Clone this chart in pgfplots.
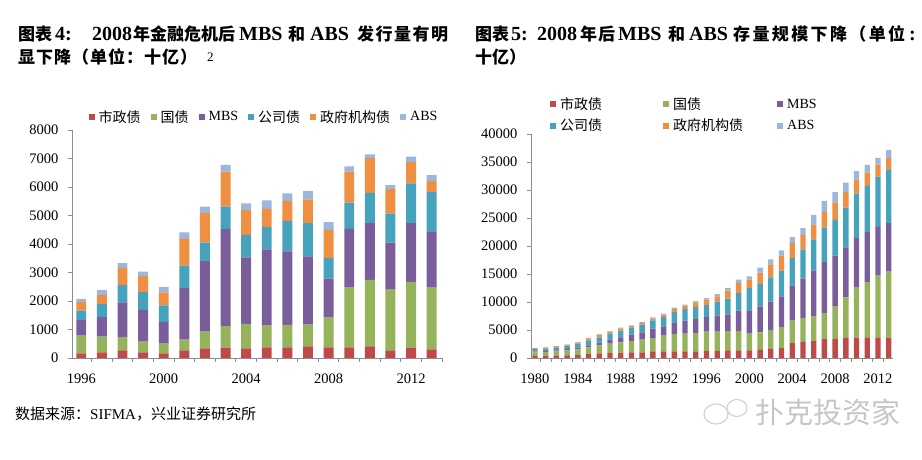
\documentclass[border=0pt]{standalone}
\usepackage{pgfplots}
\usepackage{pgfplotstable}
\pgfplotsset{compat=1.18}
\usepackage{fontspec}
\setmainfont{Liberation Serif}
\newfontfamily\cjk{Noto Sans CJK SC}
\definecolor{cRed}{HTML}{BE4B48}
\definecolor{cGreen}{HTML}{94B35A}
\definecolor{cPurple}{HTML}{7A5E9C}
\definecolor{cTeal}{HTML}{47A2BE}
\definecolor{cOrange}{HTML}{EE8F42}
\definecolor{cAbs}{HTML}{9DB6DC}
\definecolor{axgray}{HTML}{8C8C8C}

\pgfplotstableread{
year muni treas mbs corp agency abs
1996 165 620 540 340 305 105
1997 200 550 680 470 315 165
1998 270 445 1240 600 605 165
1999 200 375 1110 630 555 165
2000 165 340 760 585 455 190
2001 270 375 1815 785 935 225
2002 340 585 2470 655 1030 230
2003 365 750 3410 785 1230 235
2004 340 855 2340 785 870 235
2005 375 760 2680 775 645 295
2006 375 785 2585 1065 700 270
2007 410 760 2400 1160 840 295
2008 375 1040 1370 715 995 270
2009 375 2095 2060 920 1090 180
2010 410 2330 1990 1065 1230 120
2011 270 2130 1650 1020 855 140
2012 365 2305 2060 1395 745 200
2013 305 2165 1955 1400 390 200
}\issuance

\pgfplotstableread{
year muni treas mbs corp agency abs
1980 400 620 110 460 160 0
1981 410 680 130 470 190 0
1982 430 760 180 530 210 10
1983 470 900 240 580 210 10
1984 560 1000 270 740 240 20
1985 710 1190 360 900 360 60
1986 830 1430 480 950 480 110
1987 890 1670 710 1130 300 120
1988 950 1850 890 1190 420 110
1989 1010 2020 1140 1240 300 120
1990 1010 2260 1310 1370 300 180
1991 1190 2380 1670 1480 300 240
1992 1190 2800 1660 1670 420 170
1993 1190 3090 2090 1840 540 230
1994 1190 3150 2320 2090 590 180
1995 1190 3270 2500 2140 840 230
1996 1250 3450 2620 2140 950 300
1997 1250 3450 2860 2500 950 410
1998 1370 3330 3100 2790 1430 480
1999 1370 3450 3630 3150 1790 590
2000 1370 2970 4170 3990 1480 600
2001 1550 3030 4640 3990 2020 890
2002 1630 3270 5170 4330 2320 890
2003 1750 3690 5580 4570 2670 950
2004 2640 4040 6300 4860 2680 1070
2005 2880 4280 7010 5170 2660 1190
2006 3120 4280 8250 5530 2660 1730
2007 3360 4570 9210 6120 2840 1970
2008 3360 5820 9090 6410 3090 1840
2009 3530 7310 8910 7120 2740 1720
2010 3650 8910 8910 7900 2500 1480
2011 3590 9980 8970 8200 2380 1360
2012 3590 11110 8730 8970 2140 1190
2013 3530 11880 8670 9620 2020 1430
}\outstanding

\pgfplotsset{
  sq/.style={fill=#1, draw=none,
    legend image code/.code={\fill[#1] (0pt,-3pt) rectangle (6pt,3pt); \path (0pt,0pt) -- (8pt,0pt);}},
  base/.style={
    scale only axis,
    ybar stacked,
    axis lines*=left,
    axis line style={draw=axgray, line width=0.8pt},
    ymin=0,
    tick align=outside,
    major tick length=4pt,
    tick style={draw=axgray, line width=0.8pt},
    ticklabel style={font=\fontsize{14.5}{16}\selectfont},
    xticklabel style={yshift=-12pt},
    yticklabel style={xshift=-6pt},
    /pgf/number format/assume math mode=true,
    /pgf/number format/1000 sep={},
    scaled y ticks=false,
    xticklabel=\empty,
    extra x tick style={major tick length=0pt},
    clip=false,
  },
}

\newcommand\tc[1]{{\cjk\bfseries\fontsize{17}{20}\selectfont #1}}
\newcommand\ts[2]{{\cjk\bfseries\fontsize{17}{20}\selectfont\makebox[#1][s]{#2}}}
\newcommand\tl[1]{{\bfseries\fontsize{20}{22}\selectfont #1}}

\begin{document}
\begin{tikzpicture}
\useasboundingbox (0pt,0pt) rectangle (922pt,460pt);

% titles
\node[anchor=base west, inner sep=0pt] at (18pt,419pt) {\ts{34pt}{图\hfill 表}};
\node[anchor=base west, inner sep=0pt] at (55pt,419pt) {\tl{4:}};
\node[anchor=base west, inner sep=0pt] at (92pt,419pt) {\tl{2008}};
\node[anchor=base west, inner sep=0pt] at (133pt,419pt) {\ts{102pt}{年\hfill 金\hfill 融\hfill 危\hfill 机\hfill 后}};
\node[anchor=base west, inner sep=0pt] at (239pt,419pt) {\tl{MBS}};
\node[anchor=base west, inner sep=0pt] at (288pt,419pt) {\tc{和}};
\node[anchor=base west, inner sep=0pt] at (310pt,419pt) {\tl{ABS}};
\node[anchor=base west, inner sep=0pt] at (357pt,419pt) {\ts{91pt}{发\hfill 行\hfill 量\hfill 有\hfill 明}};
\node[anchor=base west, inner sep=0pt] at (18pt,396pt) {\ts{179pt}{显\hfill 下\hfill 降\hfill （\hfill 单\hfill 位\hfill ：\hfill 十\hfill 亿\hfill ）}};
\node[anchor=base west, inner sep=0pt] at (207pt,398pt) {\fontsize{13}{14}\selectfont 2};

\node[anchor=base west, inner sep=0pt] at (475pt,419pt) {\ts{34pt}{图\hfill 表}};
\node[anchor=base west, inner sep=0pt] at (511pt,419pt) {\tl{5:}};
\node[anchor=base west, inner sep=0pt] at (537pt,419pt) {\tl{2008}};
\node[anchor=base west, inner sep=0pt] at (580pt,419pt) {\ts{35pt}{年\hfill 后}};
\node[anchor=base west, inner sep=0pt] at (618pt,419pt) {\tl{MBS}};
\node[anchor=base west, inner sep=0pt] at (668pt,419pt) {\tc{和}};
\node[anchor=base west, inner sep=0pt] at (689pt,419pt) {\tl{ABS}};
\node[anchor=base west, inner sep=0pt] at (733pt,419pt) {\ts{172pt}{存\hfill 量\hfill 规\hfill 模\hfill 下\hfill 降\hfill （\hfill 单\hfill 位}};
\node[anchor=base west, inner sep=0pt] at (909pt,419pt) {\tl{:}};
\node[anchor=base west, inner sep=0pt] at (475pt,396pt) {\tc{十亿）}};

% left chart
\begin{axis}[base,
  at={(72pt,102pt)}, anchor=south west,
  width=371pt, height=228pt,
  xmin=1995.55, xmax=2013.55, ymax=8000,
  ytick={0,1000,...,8000},
  xtick={1995.5,1996.5,...,2013.5},
  extra x ticks={1996,2000,2004,2008,2012},
  extra x tick labels={1996,2000,2004,2008,2012},
  bar width=0.48,
  legend columns=6,
  legend style={draw=none, fill=none, inner sep=0pt,
    at={(0.5175,1.057)}, anchor=center,
    font=\fontsize{14}{16}\selectfont,
    /tikz/every even column/.append style={column sep=8pt}},
]
\addplot[sq=cRed] table[x=year,y=muni]{\issuance};
\addlegendentry{\cjk 市政债}
\addplot[sq=cGreen] table[x=year,y=treas]{\issuance};
\addlegendentry{\cjk 国债}
\addplot[sq=cPurple] table[x=year,y=mbs]{\issuance};
\addlegendentry{MBS}
\addplot[sq=cTeal] table[x=year,y=corp]{\issuance};
\addlegendentry{\cjk 公司债}
\addplot[sq=cOrange] table[x=year,y=agency]{\issuance};
\addlegendentry{\cjk 政府机构债}
\addplot[sq=cAbs] table[x=year,y=abs]{\issuance};
\addlegendentry{ABS}
\end{axis}

% right chart
\begin{axis}[base,
  at={(531pt,102pt)}, anchor=south west,
  width=362pt, height=224pt,
  xmin=1979.63, xmax=2013.4, ymax=40000,
  ytick={0,5000,...,40000},
  xtick={1979.5,1980.5,...,2013.5},
  extra x ticks={1980,1984,1988,1992,1996,2000,2004,2008,2012},
  extra x tick labels={1980,1984,1988,1992,1996,2000,2004,2008,2012},
  bar width=0.5,
  legend columns=3,
  legend style={draw=none, fill=none, inner sep=0pt,
    at={(0.0525,1.085)}, anchor=west,
    font=\fontsize{14}{16}\selectfont,
    cells={anchor=west},
    row sep=4pt},
]
\addplot[sq=cRed] table[x=year,y=muni]{\outstanding};
\addlegendentry{\makebox[101pt][l]{\cjk 市政债}}
\addplot[sq=cGreen] table[x=year,y=treas]{\outstanding};
\addlegendentry{\makebox[102pt][l]{\cjk 国债}}
\addplot[sq=cPurple] table[x=year,y=mbs]{\outstanding};
\addlegendentry{MBS}
\addplot[sq=cTeal] table[x=year,y=corp]{\outstanding};
\addlegendentry{\makebox[101pt][l]{\cjk 公司债}}
\addplot[sq=cOrange] table[x=year,y=agency]{\outstanding};
\addlegendentry{\makebox[102pt][l]{\cjk 政府机构债}}
\addplot[sq=cAbs] table[x=year,y=abs]{\outstanding};
\addlegendentry{ABS}
\end{axis}

% source and watermark
\node[anchor=west, inner sep=0pt] at (15pt,46pt) {\fontsize{15}{17}\selectfont{\cjk 数据来源：}SIFMA{\cjk ，兴业证券研究所}};
\draw[gray!35, line width=1.2pt] (716pt,46pt) ellipse (12pt and 10pt);
\draw[gray!35, line width=1.2pt] (737pt,52pt) ellipse (10pt and 8.5pt);
\node[anchor=west, inner sep=0pt, text=gray!45] at (755pt,48pt) {\cjk\fontsize{29}{32}\selectfont 扑克投资家};
\end{tikzpicture}
\end{document}
